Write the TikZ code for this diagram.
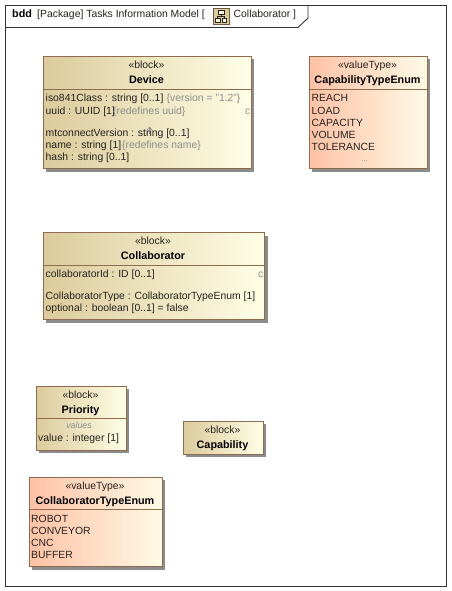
\documentclass[tikz,border=0pt]{standalone}
\usepackage{fontspec}
\setmainfont{Liberation Sans}
\usetikzlibrary{shadows}
\definecolor{blockA}{HTML}{DCCB9C}
\definecolor{blockB}{HTML}{FFFEE6}
\definecolor{enumA}{HTML}{FFC2A6}
\definecolor{enumB}{HTML}{FFFAE6}
\definecolor{edge}{HTML}{8F6B4F}
\definecolor{ink}{HTML}{26221E}
\definecolor{soft}{HTML}{8E8E8E}
\tikzset{
 x=1pt,y=-1pt,
 boxbase/.style={draw=edge,line width=1pt,inner sep=0pt,anchor=north west,shading=axis,shading angle=135,
   drop shadow={shadow xshift=3pt,shadow yshift=-3pt,fill=black!45,opacity=1}},
 blockbox/.style={boxbase,left color=blockA,right color=blockB},
 enumbox/.style={boxbase,left color=enumA,right color=enumB},
 divider/.style={draw=edge,line width=.8pt},
 stereo/.style={font=\fontsize{10.4}{12}\selectfont,text=ink,anchor=base,inner sep=0pt},
 title/.style={font=\fontsize{10.8}{12}\selectfont\bfseries,text=black,anchor=base,inner sep=0pt},
 item/.style={font=\fontsize{10.4}{12}\selectfont,text=ink,anchor=base west,inner sep=0pt},
 softitem/.style={item,text=soft},
}
\begin{document}
\begin{tikzpicture}
\useasboundingbox (0,0) rectangle (451,591);
\fill[white] (0,0) rectangle (451,591);
% frame and tab
\draw[line width=.9pt,draw=black!80] (5.5,5.5) rectangle (446,586);
\draw[line width=.9pt,draw=black!80] (5.5,27.5) -- (298,27.5) -- (308,18) -- (308,5.5);
\node[item,text=black,font=\fontsize{10.8}{12}\selectfont\bfseries] (ftag) at (12,18) {bdd};
\node[item] (fname) at (37,18) {[Package] Tasks Information Model [};
\node[draw=edge!80!black,fill=blockA,line width=.7pt,minimum width=16pt,minimum height=16pt,inner sep=0,anchor=north west] (ficon) at (213,8) {};
\draw[line width=.6pt,draw=ink,fill=blockB] (218,10.5) rectangle (224,14.5) (215.5,18.5) rectangle (220,22) (222,18.5) rectangle (226.5,22);
\draw[line width=.6pt,draw=ink] (221,14.5) -- (221,16.5) (217.7,18.5) -- (217.7,16.5) -- (224.2,16.5) -- (224.2,18.5);
\node[item] (fdiag) at (233.5,18) {Collaborator ]};

% Device
\node[blockbox,minimum width=208pt,minimum height=112pt] (device) at (42.5,56) {};
\draw[divider] (42.5,89) -- (250.5,89);
\node[stereo] (d0) at (146.5,69) {«block»};
\node[title] (d1) at (146.5,84) {Device};
\node[item] (d2) at (45.5,102) {iso841Class : string [0..1]};
\node[softitem] (d2b) at (166.5,102) {\{version = "1.2"\}};
\node[item] (d3) at (45.5,114) {uuid : UUID [1]};
\node[softitem] (d3b) at (113,114) {\{redefines uuid\}};
\node[softitem] (d3c) at (245,114) {c};
\node[item] (d4) at (45.5,136) {mtconnectVersion : string [0..1]};
\node[item] (d5) at (45.5,148) {name : string [1]};
\node[softitem] (d5b) at (122,148) {\{redefines name\}};
\node[item] (d6) at (45.5,160) {hash : string [0..1]};
\draw[soft,line width=.6pt] (146.5,130.5) -- (149.5,127) -- (152.5,130.5) (149.5,127) -- (149.5,134);

% Capability enum
\node[enumbox,minimum width=118pt,minimum height=112pt] (capenum) at (308.5,56) {};
\draw[divider] (308.5,89) -- (426.5,89);
\node[stereo] (c0) at (367.5,69) {«valueType»};
\node[title] (c1) at (367.5,84) {CapabilityTypeEnum};
\node[item] (c2) at (311.5,102) {REACH};
\node[item] (c3) at (311.5,114) {LOAD};
\node[item] (c4) at (311.5,126) {CAPACITY};
\node[item] (c5) at (311.5,138) {VOLUME};
\node[item] (c6) at (311.5,150) {TOLERANCE};
\node[softitem,font=\fontsize{8}{10}\selectfont] (c7) at (361,161) {...};

% Collaborator
\node[blockbox,minimum width=221.5pt,minimum height=87pt] (collab) at (42.5,232) {};
\draw[divider] (42.5,265) -- (264,265);
\node[stereo] (e0) at (153,244.5) {«block»};
\node[title] (e1) at (153,259) {Collaborator};
\node[item] (e2) at (45.5,277.5) {collaboratorId : ID [0..1]};
\node[softitem] (e3) at (258,277.5) {c};
\node[item] (e4) at (45.5,299.5) {CollaboratorType : CollaboratorTypeEnum [1]};
\node[item] (e5) at (45.5,311.5) {optional : boolean [0..1] = false};

% Priority
\node[blockbox,minimum width=90pt,minimum height=64pt] (priority) at (35.5,385.5) {};
\draw[divider] (35.5,418) -- (125.5,418);
\node[stereo] (p0) at (80.5,398.5) {«block»};
\node[title] (p1) at (80.5,413) {Priority};
\node[stereo,text=soft,font=\fontsize{8.8}{10}\selectfont\itshape] (p2) at (79,428.5) {values};
\node[item] (p3) at (38,441.5) {value : integer [1]};

% Capability
\node[blockbox,minimum width=80pt,minimum height=33pt] (capability) at (182.5,420.5) {};
\node[stereo] (k0) at (222.5,433.5) {«block»};
\node[title] (k1) at (222.5,448) {Capability};

% Collaborator enum
\node[enumbox,minimum width=133pt,minimum height=89.5pt] (colenum) at (28.5,476.5) {};
\draw[divider] (28.5,509.5) -- (161.5,509.5);
\node[stereo] (t0) at (95,489.5) {«valueType»};
\node[title] (t1) at (95,504) {CollaboratorTypeEnum};
\node[item] (t2) at (31,522) {ROBOT};
\node[item] (t3) at (31,534) {CONVEYOR};
\node[item] (t4) at (31,546) {CNC};
\node[item] (t5) at (31,558) {BUFFER};
\end{tikzpicture}
\end{document}
